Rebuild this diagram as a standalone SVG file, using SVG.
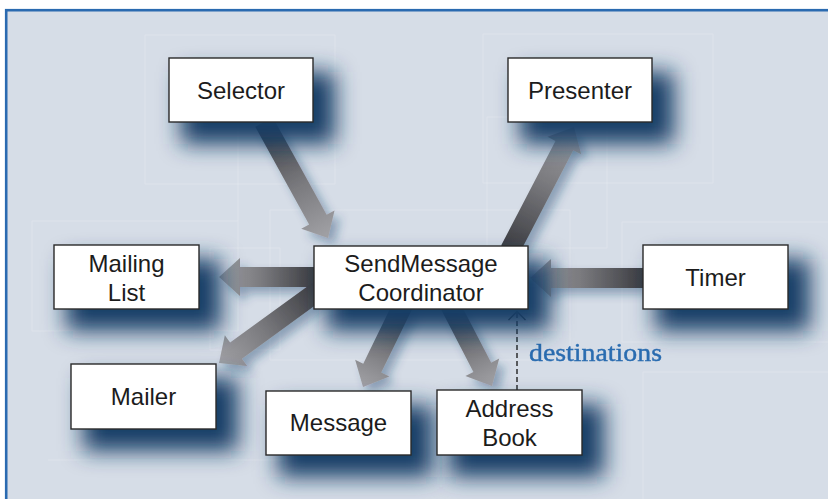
<svg xmlns="http://www.w3.org/2000/svg" width="828" height="499" viewBox="0 0 828 499">
  <defs>
    <style>
      .box { fill: #ffffff; stroke: #2a2a2a; stroke-width: 1.4; }
      .shadow { fill: #173c66; filter: url(#blur); }
      .lbl { font-family: "Liberation Sans", Arial, sans-serif; font-size: 24px; fill: #1c1c1c; text-anchor: middle; }
      .arrow { fill: url(#arrowGrad); }
      .grid { fill: none; stroke: #e6ebf2; stroke-width: 1; opacity: 0.45; }
      .dep { fill: none; stroke: #222222; stroke-width: 1.4; }
      .note { font-family: "Liberation Serif", "Times New Roman", serif; font-size: 26px; fill: #2a6cb0; stroke: #2a6cb0; stroke-width: 0.4; }
    </style>
    <linearGradient id="arrowGrad" x1="0" y1="0" x2="1" y2="0">
      <stop offset="0" stop-color="#3c3d42"/>
      <stop offset="0.55" stop-color="#7a7a7e"/>
      <stop offset="1" stop-color="#a2a2a6"/>
    </linearGradient>
    <filter id="blur" filterUnits="userSpaceOnUse" x="0" y="0" width="828" height="499">
      <feGaussianBlur stdDeviation="11"/>
    </filter>
    <filter id="arrowShadow" x="-20%" y="-20%" width="140%" height="140%">
      <feDropShadow dx="6" dy="6" stdDeviation="5" flood-color="#1e4570" flood-opacity="0.4"/>
    </filter>
  </defs>

  <!-- frame -->
  <rect x="6.2" y="10.2" width="830" height="500" fill="#d6dde7" stroke="#2a6ab0" stroke-width="2.6"/>

  <!-- faint background texture -->
  <g id="texture">
    <rect class="grid" x="145" y="35" width="190" height="149"/>
    <rect class="grid" x="32" y="221" width="206" height="110"/>
    <line class="grid" x1="238" y1="122" x2="238" y2="221"/>
    <rect class="grid" x="483" y="34" width="230" height="149"/>
    <rect class="grid" x="487" y="117" width="120" height="131"/>
    <rect class="grid" x="622" y="222" width="220" height="120"/>
    <rect class="grid" x="643" y="372" width="200" height="140"/>
    <rect class="grid" x="210" y="248" width="70" height="102"/>
    <rect class="grid" x="270" y="210" width="300" height="150"/>
    <line class="grid" x1="48" y1="460" x2="420" y2="460"/>
  </g>

  <!-- connectors -->
  <g id="connectors" filter="url(#arrowShadow)">
    <!-- Selector -> Coordinator -->
    <path class="arrow" d="M0,-10 H111.5 V-19 L132.5,0 L111.5,19 V10 H0 Z" transform="translate(264,122) rotate(61.1)"/>
    <!-- Coordinator -> Presenter -->
    <path class="arrow" d="M0,-10 H117.7 V-19 L138.7,0 L117.7,19 V10 H0 Z" transform="translate(510,250) rotate(-62.5)"/>
    <!-- Timer -> Coordinator -->
    <path class="arrow" d="M0,-10 H92 V-19 L113,0 L92,19 V10 H0 Z" transform="translate(643,278) rotate(180)"/>
    <!-- Coordinator -> Mailing List -->
    <path class="arrow" d="M0,-10 H74 V-19 L95,0 L74,19 V10 H0 Z" transform="translate(314,277) rotate(180)"/>
    <!-- Coordinator -> Mailer -->
    <path class="arrow" d="M0,-10 H101.4 V-19 L122.4,0 L101.4,19 V10 H0 Z" transform="translate(318,291) rotate(143.97)"/>
    <!-- Coordinator -> Message -->
    <path class="arrow" d="M0,-10 H70.2 V-19 L91.2,0 L70.2,19 V10 H0 Z" transform="translate(403,305) rotate(116)"/>
    <!-- Coordinator -> Address Book -->
    <path class="arrow" d="M0,-10 H70.2 V-19 L91.2,0 L70.2,19 V10 H0 Z" transform="translate(450,305) rotate(62.6)"/>
  </g>
  <g id="dependency">
    <line class="dep" x1="517" y1="390" x2="517" y2="313" stroke-dasharray="5,3"/>
    <polyline class="dep" points="508.5,320 517,311.5 525.5,320"/>
    <text class="note" x="529" y="361" textLength="133" lengthAdjust="spacingAndGlyphs">destinations</text>
  </g>

  <!-- nodes -->
  <g id="selector">
    <rect class="shadow" x="181" y="72" width="154" height="72"/>
    <rect class="box" x="169" y="58" width="144" height="64"/>
    <text class="lbl" x="241" y="99">Selector</text>
  </g>
  <g id="presenter">
    <rect class="shadow" x="520" y="72" width="154" height="72"/>
    <rect class="box" x="508" y="58" width="144" height="64"/>
    <text class="lbl" x="580" y="98.5">Presenter</text>
  </g>
  <g id="timer">
    <rect class="shadow" x="655" y="259" width="155" height="72"/>
    <rect class="box" x="643" y="245" width="145" height="64"/>
    <text class="lbl" x="715.5" y="286">Timer</text>
  </g>
  <g id="coordinator">
    <rect class="shadow" x="326" y="260" width="224" height="71"/>
    <rect class="box" x="314" y="246" width="214" height="63"/>
    <text class="lbl" x="421" y="272">SendMessage</text>
    <text class="lbl" x="421" y="301">Coordinator</text>
  </g>
  <g id="mailing-list">
    <rect class="shadow" x="66" y="259" width="155" height="72"/>
    <rect class="box" x="54" y="245" width="145" height="64"/>
    <text class="lbl" x="126.5" y="272">Mailing</text>
    <text class="lbl" x="126.5" y="301">List</text>
  </g>
  <g id="mailer">
    <rect class="shadow" x="83" y="378" width="155" height="73"/>
    <rect class="box" x="71" y="364" width="145" height="65"/>
    <text class="lbl" x="143.5" y="405">Mailer</text>
  </g>
  <g id="message">
    <rect class="shadow" x="278" y="405" width="155" height="72"/>
    <rect class="box" x="266" y="391" width="145" height="64"/>
    <text class="lbl" x="338.5" y="431">Message</text>
  </g>
  <g id="address-book">
    <rect class="shadow" x="449" y="404" width="155" height="73"/>
    <rect class="box" x="437" y="390" width="145" height="65"/>
    <text class="lbl" x="509.5" y="417">Address</text>
    <text class="lbl" x="509.5" y="446">Book</text>
  </g>
</svg>
